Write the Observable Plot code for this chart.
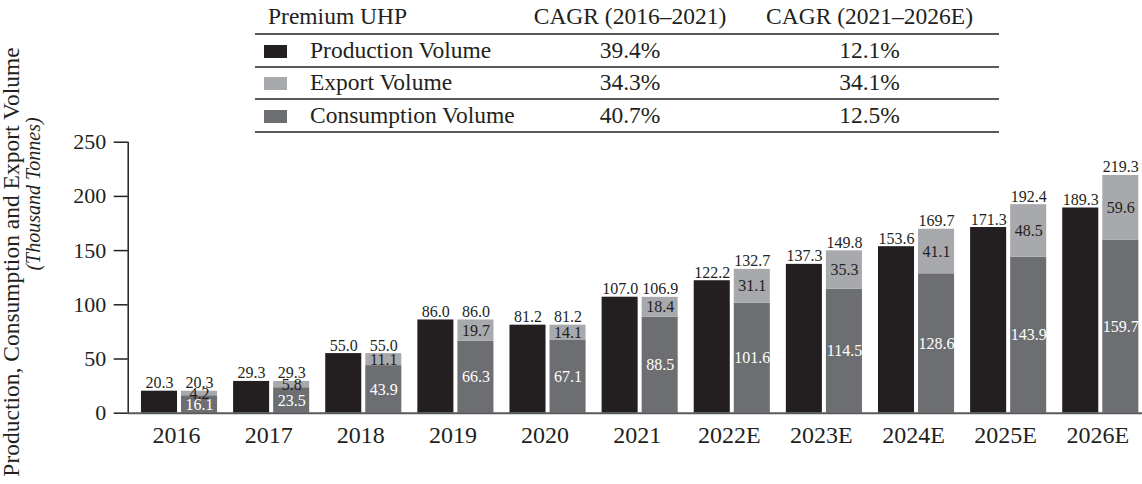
<!DOCTYPE html>
<html><head><meta charset="utf-8">
<script src="https://cdn.jsdelivr.net/npm/d3@7"></script>
<script src="https://cdn.jsdelivr.net/npm/@observablehq/plot@0.6"></script>
<style>
html,body{margin:0;padding:0;background:#fff;overflow:hidden;}
body{font-family:"Liberation Serif","Times New Roman",serif;color:#231f20;}
#wrap{position:relative;width:1142px;height:484px;}
#chart{position:absolute;left:0;top:0;}
#legend{position:absolute;left:255px;top:0;border-collapse:collapse;font-size:23.5px;table-layout:fixed;width:744px;}
#legend td,#legend th{padding:0;font-weight:normal;border-bottom:2px solid #58595b;white-space:nowrap;}
#legend th{height:33px;}
#legend td{height:30.5px;}
#legend .c1{text-align:left;}
#legend .c2,#legend .c3{text-align:center;}
.sw{display:inline-block;width:23px;height:13px;margin-left:9px;margin-right:23px;vertical-align:middle;position:relative;top:-1px;}
.ylab{position:absolute;white-space:nowrap;transform:translate(-50%,-50%) rotate(-90deg);font-size:23.5px;line-height:1;}
</style></head><body>
<div id="wrap">
  <div id="chart"></div>
  <table id="legend"></table>
  <div class="ylab" id="yl1"></div>
  <div class="ylab" id="yl2" style="font-style:italic"></div>
</div>
<script>
// ---- data ----
const years = ["2016","2017","2018","2019","2020","2021","2022E","2023E","2024E","2025E","2026E"];
const production = [20.3,29.3,55.0,86.0,81.2,107.0,122.2,137.3,153.6,171.3,189.3];
const consumption = [16.1,23.5,43.9,66.3,67.1,88.5,101.6,114.5,128.6,143.9,159.7];
const exportVol = [4.2,5.8,11.1,19.7,14.1,18.4,31.1,35.3,41.1,48.5,59.6];
const yTicks = [0,50,100,150,200,250];
const seriesNames = ["Production Volume","Export Volume","Consumption Volume"];
const seriesColors = ["#231f20","#a7a9ac","#6d6e71"];
const tableHeaders = ["Premium UHP","CAGR (2016\u20132021)","CAGR (2021\u20132026E)"];
const cagr1 = ["39.4%","34.3%","40.7%"];
const cagr2 = ["12.1%","34.1%","12.5%"];
const yLabel1 = "Production, Consumption and Export Volume";
const yLabel2 = "(Thousand Tonnes)";

// ---- table legend ----
const tbl = document.getElementById("legend");
tbl.innerHTML =
  `<colgroup><col style="width:265px"><col style="width:220px"><col style="width:259px"></colgroup>` +
  `<tr><th class="c1" style="padding-left:13px">${tableHeaders[0]}</th><th class="c2">${tableHeaders[1]}</th><th class="c3">${tableHeaders[2]}</th></tr>` +
  seriesNames.map((s,i)=>`<tr><td class="c1"><span class="sw" style="background:${seriesColors[i]}"></span>${s}</td><td class="c2">${cagr1[i]}</td><td class="c3">${cagr2[i]}</td></tr>`).join("");

const yl1 = document.getElementById("yl1"); yl1.textContent = yLabel1; yl1.style.left="12px"; yl1.style.top="262px";
const yl2 = document.getElementById("yl2"); yl2.textContent = yLabel2; yl2.style.left="33px"; yl2.style.top="194px"; yl2.style.fontSize="20px";

// ---- chart ----
const rows = years.map((y,i)=>({year:y, production:production[i], consumption:consumption[i], exp:exportVol[i], total:+(consumption[i]+exportVol[i]).toFixed(1)}));
const W=1142, H=484;
const x0=127.7, x1=1151.6;
const pi=0.174, po=0.144;
const step=(x1-x0)/(years.length-pi+2*po);
const bw=step*(1-pi);
const gap=4;
const half=bw/2+gap/2;
const fmt = v => v.toFixed(1);
const font = "Liberation Serif";

const chart = Plot.plot({
  width: W, height: H,
  marginLeft: x0, marginRight: 0, marginTop: 141.7, marginBottom: 71.3,
  style: {fontFamily: font, color: "#231f20", background: "transparent"},
  x: {domain: years, range: [x0, x1], paddingInner: pi, paddingOuter: po, round: false, axis: null},
  y: {domain: [0,250], axis: null},
  marks: [
    Plot.barY(rows, {x:"year", y1:0, y2:"production", fill: seriesColors[0], insetRight: half}),
    Plot.barY(rows, {x:"year", y1:0, y2:"consumption", fill: seriesColors[2], insetLeft: half}),
    Plot.barY(rows, {x:"year", y1:"consumption", y2:"total", fill: seriesColors[1], insetLeft: half}),
    Plot.text(rows, {x:"year", y:"production", text: d=>fmt(d.production), dx: -half/2, dy: -3, lineAnchor:"bottom", fontSize:16, fill:"#231f20"}),
    Plot.text(rows, {x:"year", y:"total", text: d=>fmt(d.total), dx: half/2, dy: -3, lineAnchor:"bottom", fontSize:16, fill:"#231f20"}),
    Plot.text(rows, {x:"year", y: d=>d.consumption + d.exp/2, text: d=>fmt(d.exp), dx: half/2, fontSize:16, fill:"#231f20"}),
    Plot.text(rows, {x:"year", y: d=>d.consumption/2, text: d=>fmt(d.consumption), dx: half/2, fontSize:16, fill:"#ffffff"}),
    Plot.ruleY([0], {stroke:"#58595b", strokeWidth:2}),
    // vertical y-axis line at the left edge of the first band's outer padding
    Plot.ruleX([years[0]], {x: d=>d, y1: yTicks[0], y2: yTicks[yTicks.length-1], dx: -(bw/2 + step*po), stroke:"#231f20", strokeWidth:1.5}),
    Plot.axisY({ticks: yTicks, tickSize: 14, tickPadding: 8, fontSize: 22, label: null, stroke:"#231f20", fill:"#231f20", strokeWidth: 1.5}),
    Plot.axisX({tickSize: 0, tickPadding: 13, fontSize: 24, label: null, fill:"#231f20", dx: -3})
  ]
});
document.getElementById("chart").appendChild(chart);
</script>
</body></html>
